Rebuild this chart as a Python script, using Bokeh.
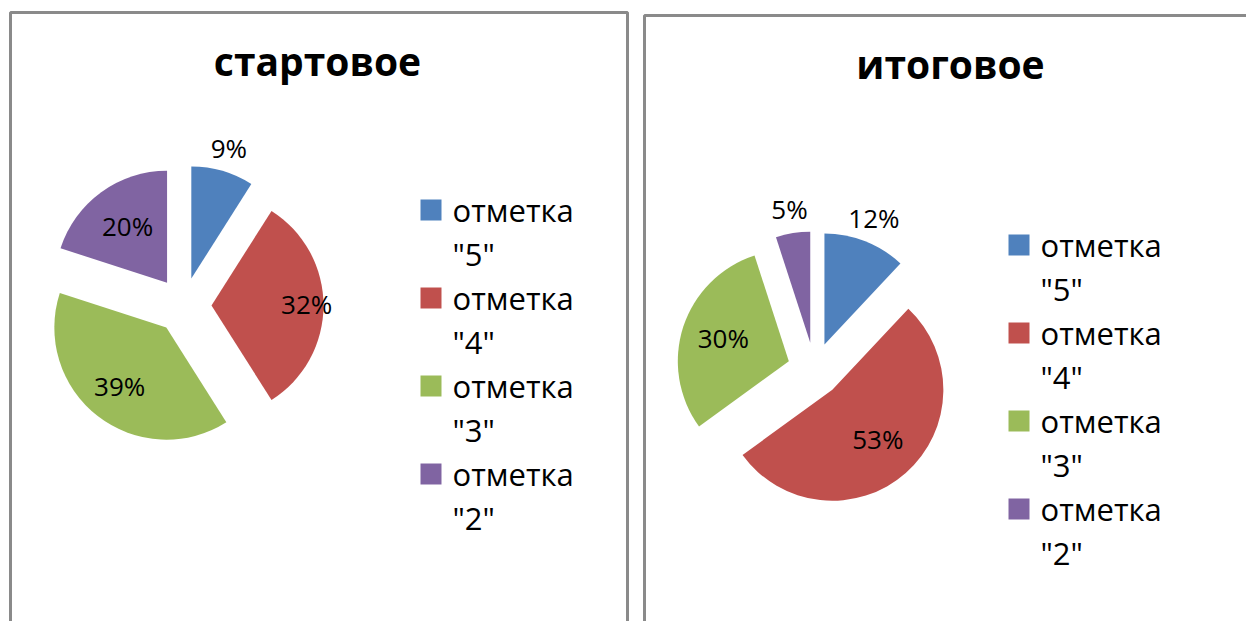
import numpy as np
from bokeh.plotting import figure
from bokeh.models import Range1d
from bokeh.core.properties import value
from bokeh.embed import file_html
from bokeh.resources import INLINE

# ---------------- data ----------------
categories = ['отметка "5"', 'отметка "4"', 'отметка "3"', 'отметка "2"']
titles = ["стартовое", "итоговое"]
start_values = [9, 32, 39, 20]
final_values = [12, 53, 30, 5]
colors = ["#4F81BD", "#C0504D", "#9BBB59", "#8064A2"]

# ---------------- layout (pixels, y measured from top) ----------------
W, H = 1246, 621
FONT = "Open Sans"
panels = [
    dict(left=10, right=627, top=12, title_x=317, title_y=60,
         cx=183, cy=305, r=112, explode=28, label_k=[1.2, 0.85, 0.68, 0.6],
         leg_x=420, leg_y=199),
    dict(left=644, right=1262, top=15, title_x=950, title_y=63,
         cx=814, cy=369, r=111, explode=27, label_k=[1.21, 0.62, 0.62, 1.2],
         leg_x=1008, leg_y=234),
]
series = [start_values, final_values]

p = figure(width=W, height=H, x_range=Range1d(0, W), y_range=Range1d(0, H),
           output_backend="svg", toolbar_location=None, min_border=0,
           x_axis_type=None, y_axis_type=None)
p.grid.visible = False
p.outline_line_color = None
p.background_fill_color = "white"
p.border_fill_color = "white"


def Y(y):
    return H - y


for pan, vals, title in zip(panels, series, titles):
    # panel frame
    p.quad(left=pan["left"], right=pan["right"], top=Y(pan["top"]), bottom=-20,
           fill_color=None, line_color="#8a8a8a", line_width=3)
    # title
    p.text(x=[pan["title_x"]], y=[Y(pan["title_y"])], text=[title],
           text_font=value(FONT), text_font_style="bold", text_font_size="39px",
           text_align="center", text_baseline="middle", text_color="black")

    v = np.array(vals, dtype=float)
    frac = v / v.sum()
    t1 = np.cumsum(frac) * 2 * np.pi
    t0 = t1 - frac * 2 * np.pi
    mid = (t0 + t1) / 2
    cx = pan["cx"] + pan["explode"] * np.sin(mid)
    cy = Y(pan["cy"]) + pan["explode"] * np.cos(mid)
    p.wedge(x=cx, y=cy, radius=pan["r"], start_angle=np.pi / 2 - t1,
            end_angle=np.pi / 2 - t0, fill_color=colors, line_color=None)

    k = np.array(pan["label_k"])
    lx = cx + k * pan["r"] * np.sin(mid)
    ly = cy + k * pan["r"] * np.cos(mid) + 2
    p.text(x=lx, y=ly, text=[f"{int(x)}%" for x in vals], text_font=value(FONT),
           text_font_size="26px", text_align="center", text_baseline="middle",
           text_color="black")

    # legend
    step = 88
    sq = 21
    for i, (cat, col) in enumerate(zip(categories, colors)):
        top = pan["leg_y"] + i * step
        p.quad(left=pan["leg_x"], right=pan["leg_x"] + sq, top=Y(top), bottom=Y(top + sq),
               fill_color=col, line_color=None)
        first, second = cat.split(" ", 1)
        p.text(x=[pan["leg_x"] + 32] * 2, y=[Y(top + 10), Y(top + 54)], text=[first, second],
               text_font=value(FONT), text_font_size="31px", text_align="left",
               text_baseline="middle", text_color="black")

open("out.html", "w").write(file_html(p, INLINE))
